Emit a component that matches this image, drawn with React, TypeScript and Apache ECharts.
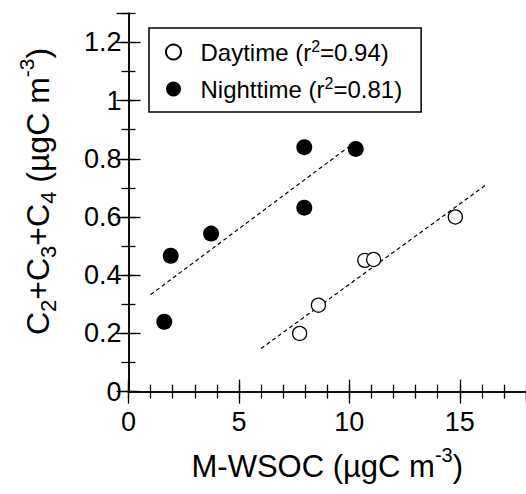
import React, { useEffect, useRef } from "react";
import * as echarts from "echarts";

const dayX = [7.75, 8.6, 10.7, 11.1, 14.8];
const dayY = [0.2, 0.297, 0.451, 0.454, 0.6];
const nightX = [1.62, 1.91, 3.74, 7.96, 7.96, 10.29];
const nightY = [0.24, 0.467, 0.543, 0.632, 0.84, 0.834];
const dayFitX = [6.0, 16.2];
const dayFitY = [0.148, 0.711];
const nightFitX = [1.0, 9.95];
const nightFitY = [0.333, 0.84];
const seriesNames = ["Daytime", "Nighttime"];
const r2Labels = ["0.94", "0.81"];

const FONT = "'Liberation Sans', Arial, sans-serif";
const zip = (xs: number[], ys: number[]) => xs.map((x, i) => [x, ys[i]]);

export default function App() {
  const ref = useRef<HTMLDivElement>(null);
  useEffect(() => {
    if (!ref.current) return;
    const chart = echarts.init(ref.current, undefined, { renderer: "svg" });
    const lineStyle = { color: "#000", width: 1.5 };
    const tickStyle = { color: "#000", width: 1.3 };
    const xBase = { type: "value", min: 0, max: 18, splitLine: { show: false } };
    const yBase = { type: "value", min: 0, max: 1.3, splitLine: { show: false } };
    chart.setOption({
      animation: false,
      backgroundColor: "#fff",
      textStyle: { fontFamily: FONT },
      grid: { left: 128.5, right: 0, top: 13.3, bottom: 102.4, containLabel: false },
      legend: {
        data: seriesNames,
        orient: "vertical",
        left: 149,
        top: 28,
        padding: [10, 19, 11, 16],
        itemGap: 11,
        itemWidth: 44,
        itemHeight: 15,
        borderColor: "#000",
        borderWidth: 1.5,
        borderRadius: 0,
        selectedMode: false,
        formatter: (name: string) => {
          const i = seriesNames.indexOf(name);
          return `{a|${name} (r}{sup|2}{a|=${r2Labels[i]})}`;
        },
        textStyle: {
          fontFamily: FONT,
          color: "#000",
          rich: {
            a: { fontSize: 24, lineHeight: 28, fontFamily: FONT, color: "#000" },
            sup: { fontSize: 16, lineHeight: 19, verticalAlign: "top", fontFamily: FONT, color: "#000" },
          },
        },
      },
      xAxis: [
        {
          ...xBase,
          position: "bottom",
          interval: 5,
          axisLine: { show: true, lineStyle },
          axisTick: { show: true, inside: true, length: 12, lineStyle: tickStyle },
          axisLabel: { show: true, fontSize: 27, color: "#000", fontFamily: FONT, margin: 17, showMaxLabel: false },
          name: "{a|M-WSOC (µgC m}{sup|-3}{a|)}",
          nameLocation: "middle",
          nameGap: 53,
          nameTextStyle: {
            fontFamily: FONT,
            color: "#000",
            rich: {
              a: { fontSize: 31, lineHeight: 44, fontFamily: FONT, color: "#000" },
              sup: { fontSize: 20, lineHeight: 16, verticalAlign: "top", fontFamily: FONT, color: "#000" },
            },
          },
        },
        {
          ...xBase,
          position: "bottom",
          interval: 1,
          axisLine: { show: false },
          axisTick: { show: true, inside: true, length: 7, lineStyle: tickStyle },
          axisLabel: { show: false },
        },
        {
          ...xBase,
          position: "top",
          interval: 5,
          axisLine: { show: true, lineStyle },
          axisTick: { show: true, inside: true, length: 12, lineStyle: tickStyle },
          axisLabel: { show: false },
        },
        {
          ...xBase,
          position: "top",
          interval: 1,
          axisLine: { show: false },
          axisTick: { show: true, inside: true, length: 7, lineStyle: tickStyle },
          axisLabel: { show: false },
        },
      ],
      yAxis: [
        {
          ...yBase,
          position: "left",
          interval: 0.2,
          axisLine: { show: true, lineStyle },
          axisTick: { show: true, inside: true, length: 12, lineStyle: tickStyle },
          axisLabel: { show: true, fontSize: 27, color: "#000", fontFamily: FONT, margin: 7, showMaxLabel: false },
          name: "{a|C}{sub|2}{a|+C}{sub|3}{a|+C}{sub|4}{a| (µgC m}{sup|-3}{a|)}",
          nameLocation: "middle",
          nameGap: 69,
          nameTextStyle: {
            fontFamily: FONT,
            color: "#000",
            padding: [0, 0, 0, 22],
            rich: {
              a: { fontSize: 32, lineHeight: 44, fontFamily: FONT, color: "#000" },
              sup: { fontSize: 21, lineHeight: 16, verticalAlign: "top", fontFamily: FONT, color: "#000" },
              sub: { fontSize: 22, lineHeight: 26, verticalAlign: "bottom", fontFamily: FONT, color: "#000" },
            },
          },
        },
        {
          ...yBase,
          position: "left",
          interval: 0.1,
          axisLine: { show: false },
          axisTick: { show: true, inside: true, length: 7, lineStyle: tickStyle },
          axisLabel: { show: false },
        },
        {
          ...yBase,
          position: "right",
          interval: 0.2,
          axisLine: { show: true, lineStyle },
          axisTick: { show: true, inside: true, length: 12, lineStyle: tickStyle },
          axisLabel: { show: false },
        },
        {
          ...yBase,
          position: "right",
          interval: 0.1,
          axisLine: { show: false },
          axisTick: { show: true, inside: true, length: 7, lineStyle: tickStyle },
          axisLabel: { show: false },
        },
      ],
      series: [
        {
          name: "DayFit",
          type: "line",
          data: zip(dayFitX, dayFitY),
          showSymbol: false,
          symbol: "none",
          lineStyle: { color: "#000", width: 1.2, type: [4, 3] },
          z: 1,
          silent: true,
        },
        {
          name: "NightFit",
          type: "line",
          data: zip(nightFitX, nightFitY),
          showSymbol: false,
          symbol: "none",
          lineStyle: { color: "#000", width: 1.2, type: [4, 3] },
          z: 1,
          silent: true,
        },
        {
          name: seriesNames[0],
          type: "scatter",
          data: zip(dayX, dayY),
          symbol: "circle",
          symbolSize: 14,
          itemStyle: { color: "#fff", borderColor: "#000", borderWidth: 1.3, opacity: 1 },
          z: 3,
        },
        {
          name: seriesNames[1],
          type: "scatter",
          data: zip(nightX, nightY),
          symbol: "circle",
          symbolSize: 16,
          itemStyle: { color: "#000", borderColor: "#000", borderWidth: 0, opacity: 1 },
          z: 3,
        },
      ],
    });
    return () => chart.dispose();
  }, []);
  return (
    <div
      ref={ref}
      style={{ position: "absolute", left: 0, top: 0, width: 526, height: 494 }}
    />
  );
}
